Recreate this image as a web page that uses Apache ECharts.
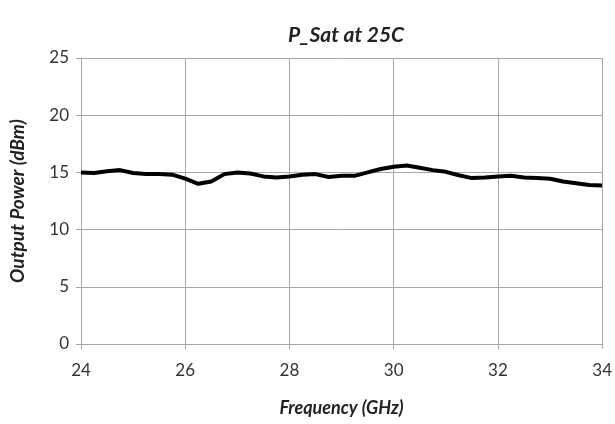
<!DOCTYPE html>
<html>
<head>
<meta charset="utf-8">
<script src="https://cdn.jsdelivr.net/npm/echarts@6/dist/echarts.min.js"></script>
<style>
  html, body { margin: 0; padding: 0; background: #fff; }
  #chart { width: 615px; height: 424px; }
</style>
</head>
<body>
<div id="chart"></div>
<script>
// frequency points (GHz) and saturated output power (dBm)
const freqs = [24, 24.25, 24.5, 24.75, 25, 25.25, 25.5, 25.75, 26, 26.25, 26.5, 26.75,
  27, 27.25, 27.5, 27.75, 28, 28.25, 28.5, 28.75, 29, 29.25, 29.5, 29.75,
  30, 30.25, 30.5, 30.75, 31, 31.25, 31.5, 31.75, 32, 32.25, 32.5, 32.75,
  33, 33.25, 33.5, 33.75, 34]
const pSat = [15.0, 14.95, 15.1, 15.2, 14.95, 14.85, 14.85, 14.8, 14.45, 14.0, 14.2, 14.85,
  15.0, 14.9, 14.65, 14.55, 14.65, 14.8, 14.85, 14.6, 14.7, 14.7, 15.0, 15.3,
  15.5, 15.6, 15.4, 15.2, 15.05, 14.75, 14.5, 14.55, 14.65, 14.7, 14.55, 14.5,
  14.45, 14.2, 14.05, 13.9, 13.85]

const gridColor = '#a6a6a6'
const textColor = '#333'
const font = 'Lato, "Open Sans", sans-serif'

const chart = echarts.init(document.getElementById('chart'), null, { renderer: 'canvas' })

chart.setOption({
  backgroundColor: '#fff',
  animation: false,
  title: {
    text: 'P_Sat at 25C',
    left: 341,
    textAlign: 'center',
    top: 20,
    textStyle: { fontFamily: font, fontSize: 21, fontWeight: 'bold', fontStyle: 'italic', color: '#222' },
  },
  grid: { left: 80, right: 12, top: 58, bottom: 80, containLabel: false },
  xAxis: {
    type: 'value',
    min: 24,
    max: 34,
    interval: 2,
    name: 'Frequency (GHz)',
    nameLocation: 'middle',
    nameGap: 55,
    nameTextStyle: { fontFamily: font, fontSize: 18, fontWeight: 'bold', fontStyle: 'italic', color: '#222' },
    axisLine: { show: true, lineStyle: { color: gridColor, width: 1 } },
    axisTick: { show: true, length: 5, lineStyle: { color: gridColor } },
    axisLabel: { fontFamily: font, fontSize: 17, color: textColor, margin: 18 },
    splitLine: { show: true, lineStyle: { color: gridColor, width: 1 } },
  },
  yAxis: {
    type: 'value',
    min: 0,
    max: 25,
    interval: 5,
    name: 'Output Power (dBm)',
    nameLocation: 'middle',
    nameGap: 54,
    nameTextStyle: { fontFamily: font, fontSize: 19, fontWeight: 'bold', fontStyle: 'italic', color: '#222' },
    axisLine: { show: true, lineStyle: { color: gridColor, width: 1 } },
    axisTick: { show: true, length: 5, lineStyle: { color: gridColor } },
    axisLabel: { fontFamily: font, fontSize: 17, color: textColor, margin: 12 },
    splitLine: { show: true, lineStyle: { color: gridColor, width: 1 } },
  },
  series: [
    {
      type: 'line',
      data: freqs.map((f, i) => [f, pSat[i]]),
      showSymbol: false,
      smooth: false,
      lineStyle: { color: '#000', width: 4 },
    },
  ],
})
</script>
</body>
</html>
